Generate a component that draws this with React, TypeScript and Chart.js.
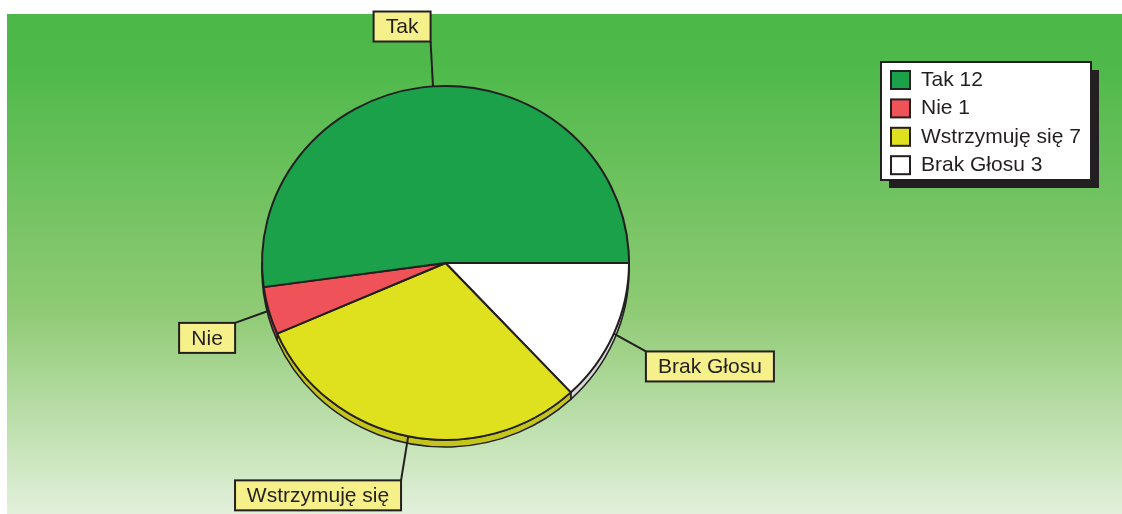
import React, { useEffect, useRef } from "react";
import { Chart, registerables } from "chart.js";

Chart.register(...registerables);

// ---- data ----
const categories = ["Tak", "Nie", "Wstrzymuję się", "Brak Głosu"];
const votes = [12, 1, 7, 3];
const sliceColors = ["#1ba14a", "#f0525a", "#dfe01e", "#ffffff"];
const rimColors = ["#17893f", "#c9424b", "#c4c51a", "#d8d8d8"];
// slices are drawn clockwise from 3 o'clock: Brak, Wstrzymuję, Nie, Tak
const drawOrder = [3, 2, 1, 0];

const FONT = '"Liberation Sans", Arial, Helvetica, sans-serif';
const INK = "#231f20";
const Y_RATIO = 177 / 183.5;
const DEPTH = 7;

const backgroundPlugin = {
  id: "bgPanel",
  beforeDraw(chart: any) {
    const ctx = chart.ctx;
    const W = chart.width;
    const H = chart.height;
    ctx.save();
    ctx.fillStyle = "#ffffff";
    ctx.fillRect(0, 0, W, H);
    const g = ctx.createLinearGradient(0, 14, 0, H);
    g.addColorStop(0, "#4cb848");
    g.addColorStop(0.1, "#4eb94a");
    g.addColorStop(0.6, "#90cb75");
    g.addColorStop(1, "#e2f0db");
    ctx.fillStyle = g;
    ctx.fillRect(7, 14, W - 7, H - 14);
    ctx.restore();
  },
};

function arcProps(el: any) {
  return el.getProps(["x", "y", "startAngle", "endAngle", "outerRadius"], true);
}

const piePlugin = {
  id: "pie3d",
  beforeDatasetsDraw(chart: any) {
    const ctx = chart.ctx;
    const meta = chart.getDatasetMeta(0);
    const first = arcProps(meta.data[0]);
    ctx.save();
    ctx.translate(first.x, first.y);
    ctx.scale(1, Y_RATIO);
    ctx.translate(-first.x, -first.y);
    const d = DEPTH / Y_RATIO;
    meta.data.forEach((el: any, k: number) => {
      const p = arcProps(el);
      const TAU = Math.PI * 2;
      const s = ((p.startAngle % TAU) + TAU) % TAU;
      const e = s + (p.endAngle - p.startAngle);
      const ranges = [
        [0, Math.PI],
        [TAU, TAU + Math.PI],
      ];
      ranges.forEach(([lo, hi]) => {
        const a = Math.max(s, lo);
        const b = Math.min(e, hi);
        if (b <= a) return;
        ctx.beginPath();
        ctx.arc(p.x, p.y, p.outerRadius, a, b, false);
        ctx.lineTo(p.x + p.outerRadius * Math.cos(b), p.y + p.outerRadius * Math.sin(b) + d);
        ctx.arc(p.x, p.y + d, p.outerRadius, b, a, true);
        ctx.closePath();
        ctx.fillStyle = rimColors[drawOrder[k]];
        ctx.fill();
        ctx.lineWidth = 1.6;
        ctx.strokeStyle = INK;
        ctx.lineJoin = "round";
        ctx.stroke();
      });
    });
  },
  afterDatasetsDraw(chart: any) {
    const ctx = chart.ctx;
    ctx.restore();
    const meta = chart.getDatasetMeta(0);
    ctx.save();
    ctx.font = `21px ${FONT}`;
    meta.data.forEach((el: any, k: number) => {
      const p = arcProps(el);
      const idx = drawOrder[k];
      const th = (p.startAngle + p.endAngle) / 2;
      const c = Math.cos(th);
      const s = Math.sin(th);
      const rx = p.outerRadius;
      const ry = p.outerRadius * Y_RATIO;
      const sx = p.x + c * rx;
      const sy = p.y + s * ry;
      const ex = p.x + c * (rx + 35);
      const ey = p.y + s * (ry + 45);
      ctx.beginPath();
      ctx.moveTo(sx, sy);
      ctx.lineTo(ex, ey);
      ctx.lineWidth = 2;
      ctx.strokeStyle = INK;
      ctx.stroke();
      const text = categories[idx];
      const tw = ctx.measureText(text).width;
      const w = Math.round(tw + 24);
      const h = 30;
      const bx = c < 0 ? ex - w : ex;
      const by = s < 0 ? ey - h : ey;
      ctx.fillStyle = "#f6f08a";
      ctx.fillRect(bx, by, w, h);
      ctx.strokeRect(bx, by, w, h);
      ctx.fillStyle = INK;
      ctx.textAlign = "center";
      ctx.textBaseline = "middle";
      ctx.fillText(text, bx + w / 2, by + h / 2 + 1);
    });
    ctx.restore();
  },
  afterDraw(chart: any) {
    const ctx = chart.ctx;
    ctx.save();
    // legend with drop shadow
    const lx = 881, ly = 62, lw = 210, lh = 118;
    ctx.fillStyle = INK;
    ctx.fillRect(lx + 8, ly + 8, lw, lh);
    ctx.fillStyle = "#ffffff";
    ctx.fillRect(lx, ly, lw, lh);
    ctx.lineWidth = 2;
    ctx.strokeStyle = INK;
    ctx.strokeRect(lx, ly, lw, lh);
    ctx.font = `21px ${FONT}`;
    ctx.textAlign = "left";
    ctx.textBaseline = "alphabetic";
    categories.forEach((cat, i) => {
      const base = 86 + i * 28.4;
      ctx.fillStyle = sliceColors[i];
      ctx.fillRect(891, base - 15, 19, 18);
      ctx.strokeRect(891, base - 15, 19, 18);
      ctx.fillStyle = INK;
      ctx.fillText(`${cat} ${votes[i]}`, 921, base);
    });
    ctx.restore();
  },
};

export default function App() {
  const ref = useRef<HTMLCanvasElement | null>(null);
  useEffect(() => {
    document.body.style.margin = "0";
    if (!ref.current) return;
    const chart = new Chart(ref.current, {
      type: "pie",
      data: {
        labels: drawOrder.map((i) => categories[i]),
        datasets: [
          {
            data: drawOrder.map((i) => votes[i]),
            backgroundColor: drawOrder.map((i) => sliceColors[i]),
            borderColor: INK,
            borderWidth: 2,
          },
        ],
      },
      options: {
        responsive: false,
        animation: false,
        events: [],
        rotation: 90,
        radius: 183.5,
        layout: { padding: { left: 195.5, right: 426.5, top: 79.5, bottom: 67.5 } },
        plugins: { legend: { display: false }, tooltip: { enabled: false } },
      } as any,
      plugins: [backgroundPlugin, piePlugin],
    });
    return () => chart.destroy();
  }, []);
  return (
    <div style={{ width: 1122, height: 514 }}>
      <canvas ref={ref} width={1122} height={514} style={{ display: "block" }} />
    </div>
  );
}
